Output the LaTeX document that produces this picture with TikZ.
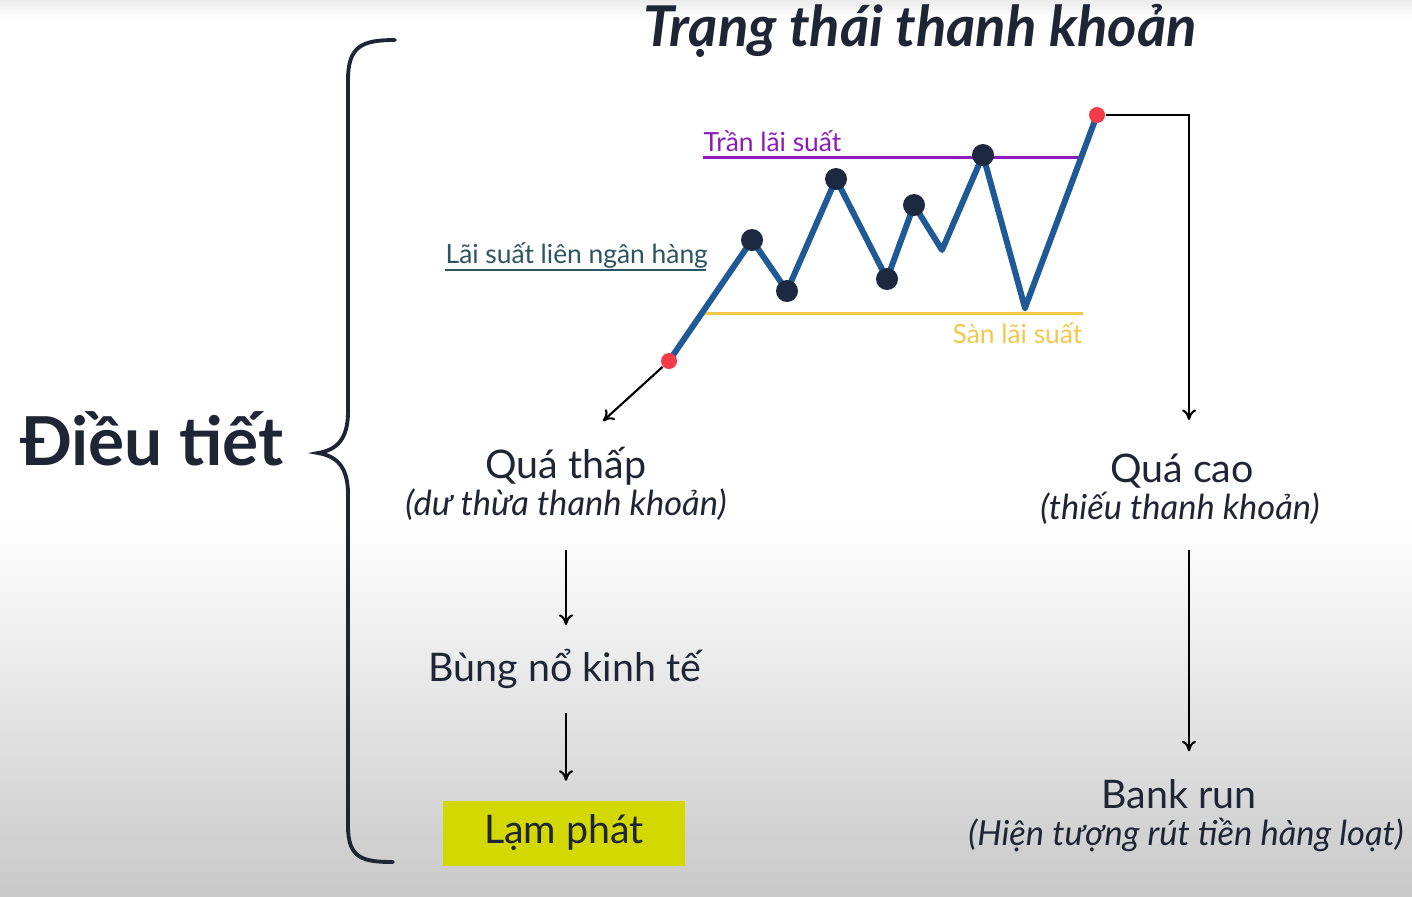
\documentclass[tikz,border=0pt]{standalone}
\usepackage{fontspec}
\setmainfont{Lato}
\usetikzlibrary{positioning,calc,arrows.meta}

\definecolor{inkdark}{HTML}{1E2534}
\definecolor{rateblue}{HTML}{1F5A96}
\definecolor{dotnavy}{HTML}{1C2940}
\definecolor{dotred}{HTML}{F23C48}
\definecolor{ceilpurple}{HTML}{8B1CB8}
\definecolor{floorgold}{HTML}{F2C84B}
\definecolor{interteal}{HTML}{2C5461}
\definecolor{limebox}{HTML}{D3D800}
\definecolor{bggray}{HTML}{C9C9C9}

\tikzset{
  peak/.style={circle,fill=dotnavy,inner sep=0pt,minimum size=0.22cm},
  extreme/.style={circle,fill=dotred,inner sep=0pt,minimum size=0.16cm},
  flow/.style={-{To[length=3pt,width=4pt]},line width=0.6pt,black},
  label/.style={inner sep=0pt,text=inkdark},
  smalltext/.style={label,font=\fontsize{7.5}{9}\selectfont},
  bigtext/.style={label,font=\fontsize{11.2}{13}\selectfont},
  subtext/.style={label,font=\fontsize{9.8}{12}\selectfont\itshape}
}

\begin{document}
\begin{tikzpicture}[x=0.01cm,y=-0.01cm]
  \useasboundingbox (0,0) rectangle (1412,896);
  % background
  \fill[white] (0,0) rectangle (1412,520);
  \shade[top color=black!8,bottom color=white] (0,0) rectangle (1412,18);
  \shade[top color=white,bottom color=bggray] (0,520) rectangle (1412,896);

  % title and left side
  \node[label,anchor=base,font=\fontsize{16}{19}\selectfont\bfseries\itshape] (title) at (920,46) {Trạng thái thanh khoản};
  \node[label,anchor=base,font=\fontsize{19.2}{23}\selectfont\bfseries] (dieutiet) at (152,465) {Điều tiết};
  \draw[inkdark,line width=1.1pt,line cap=round]
    (395,40) .. controls (362,40) and (348,46) .. (348,80) -- (348,412)
    .. controls (348,440) and (336,450) .. (318,453)
    .. controls (336,456) and (348,466) .. (348,494) -- (348,826)
    .. controls (348,858) and (362,862) .. (393,862);

  % rate levels
  \draw[ceilpurple,line width=0.85pt] (703,157) -- (1083,157);
  \node[smalltext,anchor=base west,text=ceilpurple] (tran) at (703,151) {Trần lãi suất};
  \draw[floorgold,line width=0.85pt] (703,313) -- (1083,313);
  \node[smalltext,anchor=base east,text=floorgold] (san) at (1083,343) {Sàn lãi suất};
  \draw[interteal,line width=0.6pt] (445,270) -- (706,270);
  \node[smalltext,anchor=base west,text=interteal] (lienngan) at (445,263) {Lãi suất liên ngân hàng};

  % rate path
  \coordinate (c0) at (669,361);
  \coordinate (c1) at (752,240);
  \coordinate (c2) at (787,291);
  \coordinate (c3) at (836,179);
  \coordinate (c4) at (887,279);
  \coordinate (c5) at (914,205);
  \coordinate (c6) at (942,250);
  \coordinate (c7) at (983,155);
  \coordinate (c8) at (1025,308);
  \coordinate (c9) at (1097,115);
  \draw[rateblue,line width=1.7pt,line join=round]
    (c0) -- (c1) -- (c2) -- (c3) -- (c4) -- (c5) -- (c6) -- (c7) -- (c8) -- (c9);
  \node[extreme] (low) at (c0) {};
  \foreach \i in {1,2,3,4,5,7}
    \node[peak] (dot\i) at (c\i) {};
  \node[extreme] (high) at (c9) {};

  % left branch
  \node[bigtext,anchor=base] (quathap) at (566,478) {Quá thấp};
  \node[subtext,anchor=base] (duthua) at (566,515) {(dư thừa thanh khoản)};
  \node[bigtext,anchor=base] (bungno) at (565,681) {Bùng nổ kinh tế};
  \node[bigtext,fill=limebox,minimum width=2.41cm,minimum height=0.65cm] (lamphat) at (564,833) {Lạm phát};
  \coordinate (lowend) at (603,421);
  \draw[flow] (low) -- (lowend);
  \draw[flow,shorten <=2.9mm,shorten >=2.3mm] (duthua.south) -- (bungno.north -| duthua.south);
  \draw[flow,shorten <=2.4mm,shorten >=1.9mm] (bungno.south -| duthua.south) -- (lamphat.north -| duthua.south);

  % right branch
  \node[bigtext,anchor=base] (quacao) at (1182,482) {Quá cao};
  \node[subtext,anchor=base] (thieu) at (1180,519) {(thiếu thanh khoản)};
  \node[bigtext,anchor=base] (bankrun) at (1179,808) {Bank run};
  \node[subtext,anchor=base] (rutien) at (1186,845) {(Hiện tượng rút tiền hàng loạt)};
  \coordinate (highend) at (1189,420);
  \draw[flow] (high) -| (highend);
  \draw[flow,shorten <=2.5mm,shorten >=2.7mm] (thieu.south -| highend) -- (bankrun.north -| highend);
\end{tikzpicture}
\end{document}
